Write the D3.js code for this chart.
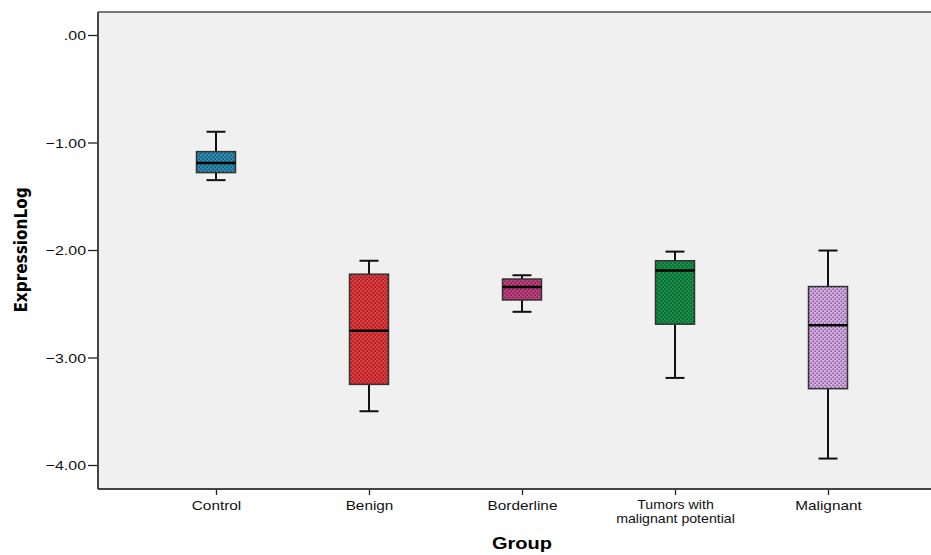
<!DOCTYPE html>
<html>
<head>
<meta charset="utf-8">
<script src="https://d3js.org/d3.v7.min.js"></script>
<style>
  body { margin: 0; background: #fff; }
  text { font-family: "Liberation Sans", Arial, sans-serif; }
</style>
</head>
<body>
<svg id="chart" width="931" height="555"></svg>
<script>
// data
const groups = ["Control", "Benign", "Borderline", "Tumors with\nmalignant potential", "Malignant"];
const whiskerLow  = [-1.35, -3.50, -2.575, -3.19, -3.94];
const q1          = [-1.28, -3.25, -2.465, -2.69, -3.29];
const medians     = [-1.19, -2.75, -2.345, -2.19, -2.70];
const q3          = [-1.085, -2.225, -2.27, -2.10, -2.34];
const whiskerHigh = [-0.90, -2.10, -2.235, -2.015, -2.005];
const colors = ["#2a8db4", "#e8383c", "#c23f80", "#16924a", "#d9abea"];
const yTicks = [0, -1, -2, -3, -4];

const svg = d3.select("#chart");
const plot = {left: 98, top: 12, right: 932, bottom: 489};
const stretch = 1.18; // the original text is a little wide

// panel background
svg.append("rect")
  .attr("x", plot.left).attr("y", plot.top)
  .attr("width", plot.right - plot.left).attr("height", plot.bottom - plot.top)
  .attr("fill", "#f0f0f0");

const y = d3.scaleLinear().domain([-4, 0]).range([465, 35]);
const x = d3.scalePoint().domain(groups).range([216, 828]);

// dotted fill patterns, one per group
const defs = svg.append("defs");
colors.forEach((c, i) => {
  let p = defs.append("pattern")
    .attr("id", "pat" + i)
    .attr("width", 4).attr("height", 4)
    .attr("patternUnits", "userSpaceOnUse");
  p.append("rect").attr("width", 4).attr("height", 4).attr("fill", c);
  p.append("rect").attr("x", 0.5).attr("y", 0.5).attr("width", 1.6).attr("height", 1.6)
    .attr("fill", d3.color(c).darker(1.6));
  p.append("rect").attr("x", 2.5).attr("y", 2.5).attr("width", 1.6).attr("height", 1.6)
    .attr("fill", d3.color(c).darker(1.6));
});

// y axis
const yAxis = svg.append("g")
  .attr("transform", `translate(${plot.left},0)`)
  .call(d3.axisLeft(y).tickValues(yTicks).tickSize(10).tickFormat(""));
yAxis.select(".domain").remove();
yAxis.selectAll("line").attr("stroke", "#222").attr("stroke-width", 1.3);
yAxis.selectAll(".tick").append("text")
  .attr("transform", `translate(-12,0) scale(${stretch},1)`)
  .attr("dy", "0.36em")
  .attr("text-anchor", "end").attr("font-size", 13.5).attr("fill", "#111")
  .text(d => d === 0 ? ".00" : d3.format(".2f")(d));

// x axis
const xAxis = svg.append("g")
  .attr("transform", `translate(0,${plot.bottom})`)
  .call(d3.axisBottom(x).tickSize(6).tickFormat(""));
xAxis.select(".domain").remove();
xAxis.selectAll("line").attr("stroke", "#222").attr("stroke-width", 1.3);
xAxis.selectAll(".tick").each(function(d) {
  let lines = d.split("\n");
  let tick = d3.select(this);
  lines.forEach((s, k) => {
    tick.append("text")
      .attr("transform", `translate(0,${lines.length > 1 ? 20 + k * 13.5 : 21}) scale(${stretch},1)`)
      .attr("text-anchor", "middle")
      .attr("font-size", lines.length > 1 ? 12 : 13)
      .attr("fill", "#111")
      .text(s);
  });
});

// frame
svg.append("line").attr("x1", plot.left).attr("x2", plot.right)
  .attr("y1", plot.top).attr("y2", plot.top).attr("stroke", "#777").attr("stroke-width", 2);
svg.append("line").attr("x1", plot.left).attr("x2", plot.right)
  .attr("y1", plot.bottom).attr("y2", plot.bottom).attr("stroke", "#444").attr("stroke-width", 2);
svg.append("line").attr("x1", plot.left).attr("x2", plot.left)
  .attr("y1", plot.top).attr("y2", plot.bottom).attr("stroke", "#444").attr("stroke-width", 2);

// boxes
const boxW = 39, capW = 19;
groups.forEach((g, i) => {
  let cx = x(g);
  let grp = svg.append("g");
  grp.append("line").attr("x1", cx).attr("x2", cx)
    .attr("y1", y(whiskerHigh[i])).attr("y2", y(q3[i]))
    .attr("stroke", "#111").attr("stroke-width", 2);
  grp.append("line").attr("x1", cx).attr("x2", cx)
    .attr("y1", y(q1[i])).attr("y2", y(whiskerLow[i]))
    .attr("stroke", "#111").attr("stroke-width", 2);
  [whiskerHigh[i], whiskerLow[i]].forEach(v => {
    grp.append("line").attr("x1", cx - capW / 2).attr("x2", cx + capW / 2)
      .attr("y1", y(v)).attr("y2", y(v))
      .attr("stroke", "#111").attr("stroke-width", 2);
  });
  grp.append("rect")
    .attr("x", cx - boxW / 2).attr("y", y(q3[i]))
    .attr("width", boxW).attr("height", y(q1[i]) - y(q3[i]))
    .attr("fill", "url(#pat" + i + ")")
    .attr("stroke", "#333").attr("stroke-width", 1.5);
  grp.append("line").attr("x1", cx - boxW / 2).attr("x2", cx + boxW / 2)
    .attr("y1", y(medians[i])).attr("y2", y(medians[i]))
    .attr("stroke", "#000").attr("stroke-width", 2.5);
});

// axis titles
svg.append("text")
  .attr("transform", "translate(27,250) rotate(-90)")
  .attr("text-anchor", "middle")
  .attr("font-size", 17).attr("font-weight", "bold")
  .attr("style", "font-family: 'Liberation Sans Narrow', 'DejaVu Sans Condensed', sans-serif")
  .text("ExpressionLog");
svg.append("text")
  .attr("transform", `translate(522,549) scale(${stretch},1)`)
  .attr("text-anchor", "middle")
  .attr("font-size", 17).attr("font-weight", "bold")
  .text("Group");
</script>
</body>
</html>
